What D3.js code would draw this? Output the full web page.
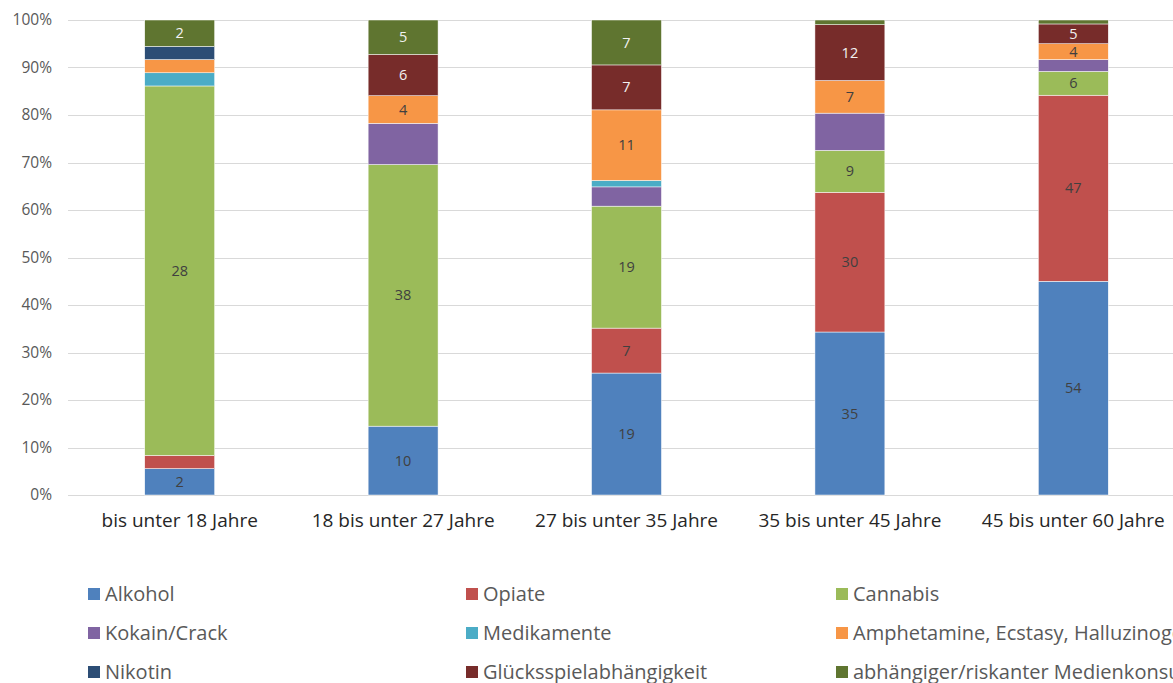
<!DOCTYPE html>
<html>
<head>
<meta charset="utf-8">
<script src="https://cdn.jsdelivr.net/npm/d3@7"></script>
<style>
  body { margin: 0; background: #fff; }
  svg { display: block; font-family: "Open Sans", sans-serif; }
</style>
</head>
<body>
<svg id="chart"></svg>
<script>
// age groups on the x axis
const categories = ["bis unter 18 Jahre", "18 bis unter 27 Jahre", "27 bis unter 35 Jahre",
  "35 bis unter 45 Jahre", "45 bis unter 60 Jahre"];

// series, bottom to top of the stack
const seriesNames = ["Alkohol", "Opiate", "Cannabis", "Kokain/Crack", "Medikamente",
  "Amphetamine, Ecstasy, Halluzinogene", "Nikotin", "Glücksspielabhängigkeit",
  "abhängiger/riskanter Medienkonsum"];

const alkohol     = [2, 10, 19, 35, 54];
const opiate      = [1, 0, 7, 30, 47];
const cannabis    = [28, 38, 19, 9, 6];
const kokain      = [0, 6, 3, 8, 3];
const medikamente = [1, 0, 1, 0, 0];
const amphetamine = [1, 4, 11, 7, 4];
const nikotin     = [1, 0, 0, 0, 0];
const gluecksspiel = [0, 6, 7, 12, 5];
const medien      = [2, 5, 7, 1, 1];

// only these series carry data labels in the original
const labeledSeries = ["Alkohol", "Opiate", "Cannabis", "Amphetamine, Ecstasy, Halluzinogene",
  "Glücksspielabhängigkeit", "abhängiger/riskanter Medienkonsum"];

const yTicks = [0, 0.1, 0.2, 0.3, 0.4, 0.5, 0.6, 0.7, 0.8, 0.9, 1];

const colors = ["#4f81bd", "#c0504d", "#9bbb59", "#8064a2", "#4bacc6",
  "#f79646", "#2c4d75", "#772c2a", "#5f7530"];
const darkSeries = ["Nikotin", "Glücksspielabhängigkeit", "abhängiger/riskanter Medienkonsum"];

const seriesValues = [alkohol, opiate, cannabis, kokain, medikamente,
  amphetamine, nikotin, gluecksspiel, medien];

// build rows for d3.stack, normalised to 100 %
const rows = categories.map((c, i) => {
  const row = { category: c };
  const total = d3.sum(seriesValues, s => s[i]);
  seriesNames.forEach((name, j) => {
    row[name] = seriesValues[j][i] / total;
    row[name + "_n"] = seriesValues[j][i];
  });
  return row;
});

const width = 1173, height = 683;
const margin = { top: 20, left: 68, plotRight: 1185, plotBottom: 495 };
const font = "'Open Sans', sans-serif";

const svg = d3.select("#chart")
  .attr("width", width)
  .attr("height", height);

const x = d3.scaleBand()
  .domain(categories)
  .range([margin.left, margin.plotRight])
  .paddingInner(0.687)
  .paddingOuter(0.3435);

const y = d3.scaleLinear()
  .domain([0, 1])
  .range([margin.plotBottom, margin.top]);

const color = d3.scaleOrdinal().domain(seriesNames).range(colors);

// gridlines
svg.append("g")
  .selectAll("line")
  .data(yTicks)
  .join("line")
  .attr("x1", margin.left)
  .attr("x2", margin.plotRight)
  .attr("y1", d => Math.round(y(d)) + 0.5)
  .attr("y2", d => Math.round(y(d)) + 0.5)
  .attr("stroke", "#d9d9d9")
  .attr("stroke-width", 1);

// y axis labels
const yAxis = svg.append("g")
  .attr("transform", "translate(" + (margin.left - 16) + ",0)")
  .call(d3.axisLeft(y).tickValues(yTicks).tickFormat(d3.format(".0%")).tickSize(0).tickPadding(0))
  .attr("font-family", font)
  .attr("font-size", 15.5);
yAxis.select(".domain").remove();
yAxis.selectAll("text").attr("fill", "#595959");

const stacked = d3.stack().keys(seriesNames)(rows);

const layers = svg.append("g")
  .selectAll("g")
  .data(stacked)
  .join("g")
  .attr("fill", d => color(d.key));

layers.selectAll("rect")
  .data(d => d.map(p => ({ key: d.key, p })))
  .join("rect")
  .attr("x", d => x(d.p.data.category))
  .attr("width", x.bandwidth())
  .attr("y", d => y(d.p[1]))
  .attr("height", d => y(d.p[0]) - y(d.p[1]))
  .attr("stroke", "#fff")
  .attr("stroke-width", d => (d.p[1] - d.p[0]) > 0 ? 0.5 : 0);

// data labels
layers.selectAll("text")
  .data(d => d.map(p => ({ key: d.key, p }))
    .filter(v => labeledSeries.includes(v.key) && v.p.data[v.key + "_n"] >= 2))
  .join("text")
  .attr("x", d => x(d.p.data.category) + x.bandwidth() / 2)
  .attr("y", d => (y(d.p[0]) + y(d.p[1])) / 2)
  .attr("dy", "0.35em")
  .attr("text-anchor", "middle")
  .attr("fill", d => darkSeries.includes(d.key) ? "#f2f2f2" : "#404040")
  .style("font-size", "14.5px")
  .text(d => d.p.data[d.key + "_n"]);

// x axis labels
const xAxis = svg.append("g")
  .attr("transform", "translate(0," + margin.plotBottom + ")")
  .call(d3.axisBottom(x).tickSize(0).tickPadding(19))
  .attr("font-family", font)
  .attr("font-size", 19);
xAxis.select(".domain").remove();
xAxis.selectAll("text").attr("fill", "#262626");

// legend, three columns
const legendCols = [88, 466, 836];
const legendRows = [594, 633, 672];
const legend = svg.append("g")
  .selectAll("g")
  .data(seriesNames)
  .join("g")
  .attr("transform", (d, i) => "translate(" + legendCols[i % 3] + "," + legendRows[Math.floor(i / 3)] + ")");

legend.append("rect")
  .attr("x", 0)
  .attr("y", -6)
  .attr("width", 12)
  .attr("height", 12)
  .attr("fill", d => color(d));

legend.append("text")
  .attr("x", 17)
  .attr("dy", "0.35em")
  .attr("fill", "#595959")
  .style("font-size", "20px")
  .text(d => d);
</script>
</body>
</html>
